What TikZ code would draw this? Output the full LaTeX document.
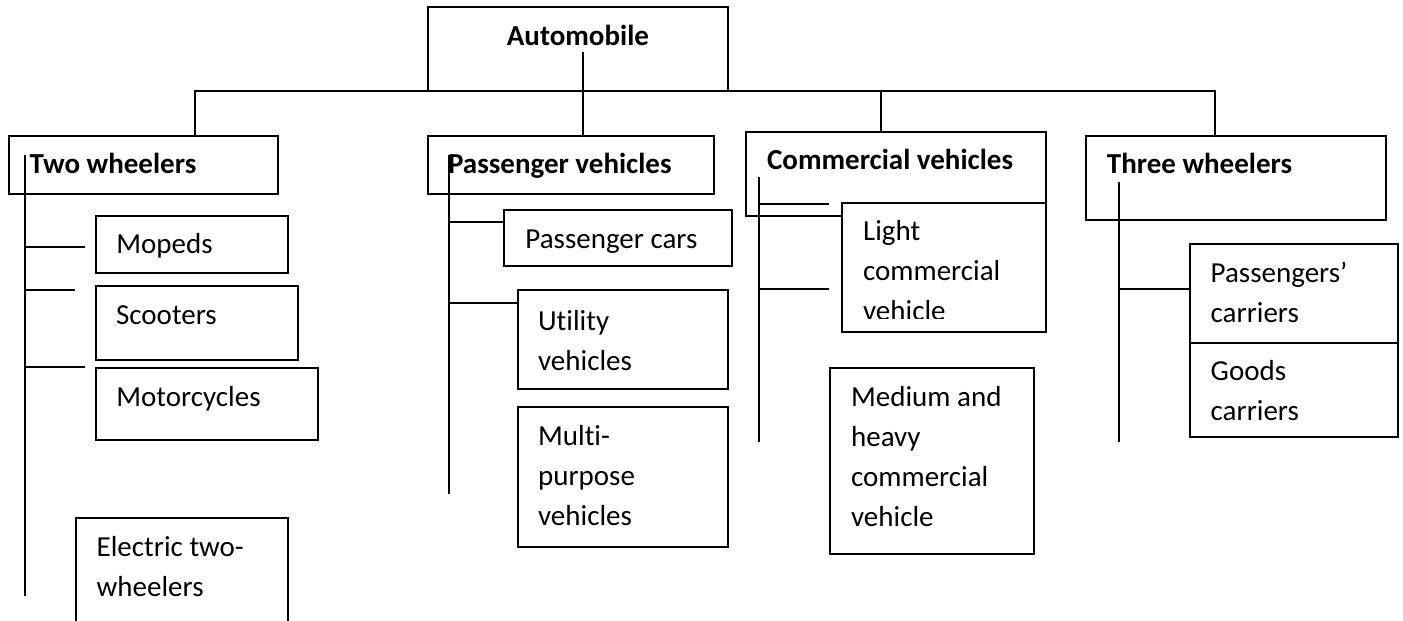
\documentclass[tikz,border=0pt]{standalone}
\usepackage{fontspec}
\setmainfont{Carlito}[Ligatures=CommonOff]
\usepackage{tikz}
\usetikzlibrary{positioning}

\tikzset{
  catbox/.style={draw, fill=white, line width=1pt, rectangle, inner sep=0pt, anchor=north west},
  % base of a multi-line node is the baseline of its last line
  cattext/.style={anchor=base west, inner sep=0pt, align=left, font=\fontsize{14.5}{20}\selectfont},
  headtext/.style={cattext, font=\fontsize{14.5}{20}\selectfont\bfseries},
  link/.style={line width=0.9pt},
}

\begin{document}
\begin{tikzpicture}[x=0.5pt, y=-0.5pt]
    \clip (0,0) rectangle (1403,621);

    % Top level
    \node[catbox, minimum width=150.2pt, minimum height=42.2pt] (auto) at (426.7,5.7) {};
    \node[headtext, anchor=base] (autoTxt) at ([shift={(0,39.3)}]auto.north) {Automobile};

    % Main groups
    \node[catbox, minimum width=134.5pt, minimum height=29.2pt] (two) at (8.3,135) {};
    \node[catbox, minimum width=143.3pt, minimum height=29.2pt] (pass) at (426.7,135) {};
    \node[catbox, minimum width=150pt, minimum height=42pt] (comm) at (745,131) {};
    \node[catbox, minimum width=150.2pt, minimum height=41.9pt] (three) at (1085,135) {};
    \node[headtext] (twoTxt) at ([shift={(21,38)}]two.north west) {Two wheelers};
    \node[headtext] (passTxt) at ([shift={(21,38)}]pass.north west) {Passenger vehicles};
    \node[headtext] (commTxt) at ([shift={(21.7,38)}]comm.north west) {Commercial vehicles};
    \node[headtext] (threeTxt) at ([shift={(21.5,38)}]three.north west) {Three wheelers};

    % Two wheelers
    \node[catbox, minimum width=96.2pt, minimum height=28.4pt] (mopeds) at (95,215) {};
    \node[catbox, minimum width=101.2pt, minimum height=37pt] (scooters) at (95,285) {};
    \node[catbox, minimum width=111.2pt, minimum height=36.3pt] (motor) at (95,366.7) {};
    \node[catbox, minimum width=106.3pt, minimum height=62pt] (electric) at (74.7,517.3) {};
    \node[cattext] (mopedsTxt) at ([shift={(21,38.3)}]mopeds.north west) {Mopeds};
    \node[cattext] (scootersTxt) at ([shift={(20.7,39)}]scooters.north west) {Scooters};
    \node[cattext] (motorTxt) at ([shift={(21,40)}]motor.north west) {Motorcycles};
    \node[cattext] (electricTxt) at ([shift={(21.6,79.4)}]electric.north west) {Electric two-\\wheelers};

    % Passenger vehicles
    \node[catbox, minimum width=114.2pt, minimum height=28pt] (cars) at (502.7,209) {};
    \node[catbox, minimum width=105.3pt, minimum height=49.2pt] (utility) at (516.7,289.3) {};
    \node[catbox, minimum width=105.3pt, minimum height=70pt] (multi) at (516.7,405.7) {};
    \node[cattext] (carsTxt) at ([shift={(22.3,39.3)}]cars.north west) {Passenger cars};
    \node[cattext] (utilityTxt) at ([shift={(21,80.7)}]utility.north west) {Utility\\vehicles};
    \node[cattext] (multiTxt) at ([shift={(21,119.3)}]multi.north west) {Multi-\\purpose\\vehicles};

    % Commercial vehicles
    \node[catbox, minimum width=102pt, minimum height=64.8pt] (light) at (841,201.5) {};
    \node[catbox, minimum width=102.2pt, minimum height=93pt] (medium) at (829,366.7) {};
    \begin{scope}
        % last line runs past the box and is cut off
        \clip (light.north west) rectangle ([shift={(204,116.8)}]light.north west);
        \node[cattext] (lightTxt) at ([shift={(21.7,118.5)}]light.north west) {Light\\commercial\\vehicle};
    \end{scope}
    \node[cattext] (mediumTxt) at ([shift={(21.7,160)}]medium.north west) {Medium and\\heavy\\commercial\\vehicle};

    % Three wheelers
    \node[catbox, minimum width=104.3pt, minimum height=49.2pt] (paxc) at (1188.7,243.3) {};
    \node[catbox, minimum width=104.3pt, minimum height=47.2pt] (goods) at (1188.7,341.7) {};
    \node[cattext] (paxcTxt) at ([shift={(21.6,79.4)}]paxc.north west) {Passengers’\\carriers};
    \node[cattext] (goodsTxt) at ([shift={(21.6,79)}]goods.north west) {Goods\\carriers};

    % Bus from the top box
    \coordinate (autoStem) at (582.7,51.7);
    \coordinate (busL) at (195,91);
    \coordinate (busC) at (881,91);
    \coordinate (busR) at (1214.7,91);
    \draw[link] (autoStem) -- (autoStem |- pass.north);
    \draw[link] (busL |- two.north) -- (busL) -- (busR) -- (busR |- three.north);
    \draw[link] (busC) -- (busC |- comm.north);

    % Trunks
    \coordinate (twoTop) at (25,155);
    \coordinate (twoEnd) at (25,596);
    \coordinate (passTop) at (449.3,155);
    \coordinate (passEnd) at (449.3,494.3);
    \coordinate (commTop) at (759,177.3);
    \coordinate (commEnd) at (759,442.3);
    \coordinate (threeTop) at (1119,181.7);
    \coordinate (threeEnd) at (1119,442.3);
    \draw[link] (twoTop) -- (twoEnd);
    \draw[link] (passTop) -- (passEnd);
    \draw[link] (commTop) -- (commEnd);
    \draw[link] (threeTop) -- (threeEnd);

    % Branch tips
    \coordinate (twoTip) at (95,194.3);
    \coordinate (mopedsTip) at (85,246.7);
    \coordinate (scootersTip) at (75,290);
    \coordinate (motorTip) at (85,367.3);
    \coordinate (passTip) at (485,194.3);
    \coordinate (carsTip) at (502.7,221.7);
    \coordinate (utilityTip) at (516.7,303.3);
    \coordinate (commTip) at (829,204.3);
    \coordinate (lightTip) at (829,289.3);
    \coordinate (threeTip) at (1188.7,220);
    \coordinate (paxcTip) at (1188.7,289.3);
    \foreach \t/\r in {twoTip/twoTop, mopedsTip/twoTop, scootersTip/twoTop, motorTip/twoTop,
                       passTip/passTop, carsTip/passTop, utilityTip/passTop,
                       commTip/commTop, lightTip/commTop,
                       threeTip/threeTop, paxcTip/threeTop}
        \draw[link] (\t -| \r) -- (\t);
\end{tikzpicture}
\end{document}
